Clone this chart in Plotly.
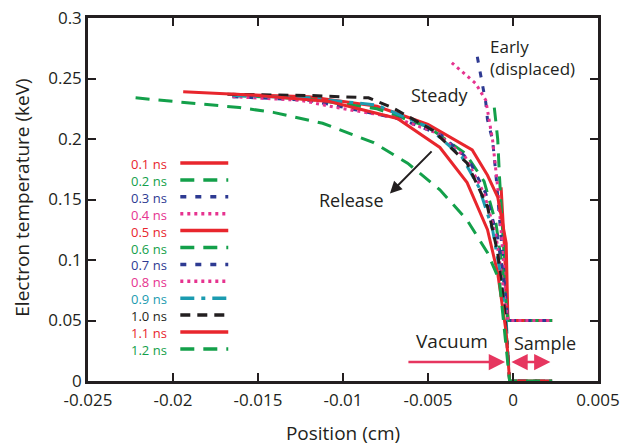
import plotly.graph_objects as go

# series labels and styles (legend order)
labels = ["0.1 ns", "0.2 ns", "0.3 ns", "0.4 ns", "0.5 ns", "0.6 ns",
          "0.7 ns", "0.8 ns", "0.9 ns", "1.0 ns", "1.1 ns", "1.2 ns"]

RED = "#e8262d"
GREEN = "#13a04a"
BLUE = "#2e3a92"
MAGENTA = "#e6338f"
TEAL = "#1b9bb0"
BLACK = "#231f20"
PINK = "#e6365f"

colors = [RED, GREEN, BLUE, MAGENTA, RED, GREEN, BLUE, MAGENTA, TEAL, BLACK, RED, GREEN]
dashes = ["solid", "14px,9px", "6px,9px", "3px,4px", "solid", "14px,9px",
          "6px,9px", "3px,4px", "14px,7px,4px,7px", "10px,7px", "solid", "14px,9px"]

# position (cm) / electron temperature (keV)
x01 = [-0.0007, -0.0005, -0.0004, -0.0003, 0.0023]
y01 = [0.16, 0.11, 0.07, 0.05, 0.05]
x02 = [-0.0011, -0.0009, -0.0008, -0.0006, -0.0004, -0.0003, 0.0023]
y02 = [0.226, 0.2, 0.17, 0.12, 0.07, 0.05, 0.05]
x03 = [-0.0021, -0.0018, -0.0016, -0.0015, -0.0012, -0.001, -0.0007, -0.0004, -0.0003, 0.0023]
y03 = [0.268, 0.247, 0.23, 0.216, 0.199, 0.17, 0.12, 0.07, 0.05, 0.05]
x04 = [-0.0036, -0.0022, -0.0016, -0.0014, -0.0012, -0.0009, -0.0006, -0.0004, -0.0003, 0.0023]
y04 = [0.263, 0.246, 0.232, 0.216, 0.199, 0.16, 0.11, 0.07, 0.05, 0.05]
x05 = [-0.0165, -0.012, -0.008, -0.005, -0.0024, -0.0015, -0.0009, -0.0004, -0.0003, 0.0023]
y05 = [0.237, 0.235, 0.227, 0.212, 0.191, 0.17, 0.152, 0.114, 0.05, 0.05]
x06 = [-0.0165, -0.012, -0.008, -0.005, -0.0028, -0.0017, -0.001, -0.0006, -0.0003, 0.0023]
y06 = [0.236, 0.233, 0.225, 0.21, 0.188, 0.165, 0.13, 0.09, 0.05, 0.05]
x07 = [-0.0165, -0.012, -0.0092, -0.0065, -0.0042, -0.0026, -0.0016, -0.0009, -0.0005, -0.0003, 0.0023]
y07 = [0.235, 0.232, 0.224, 0.216, 0.203, 0.183, 0.155, 0.118, 0.08, 0.05, 0.05]
x08 = [-0.0165, -0.0125, -0.0104, -0.007, -0.0045, -0.0028, -0.0017, -0.001, -0.0006, -0.0003, 0.0023]
y08 = [0.235, 0.232, 0.226, 0.218, 0.205, 0.185, 0.155, 0.12, 0.08, 0.05, 0.05]
x09 = [-0.0165, -0.012, -0.008, -0.005, -0.003, -0.002, -0.0012, -0.0007, -0.0004, -0.0002, 0.0023]
y09 = [0.236, 0.234, 0.228, 0.21, 0.185, 0.16, 0.125, 0.085, 0.05, 0.0, 0.0]
x10 = [-0.0168, -0.012, -0.0085, -0.0071, -0.0047, -0.0027, -0.0015, -0.0009, -0.0005, -0.0002, 0.0023]
y10 = [0.237, 0.236, 0.234, 0.226, 0.207, 0.18, 0.144, 0.106, 0.06, 0.0, 0.0]
x11 = [-0.0194, -0.015, -0.0108, -0.0068, -0.0043, -0.0027, -0.0015, -0.0009, -0.0004, -0.0002, 0.0023]
y11 = [0.239, 0.236, 0.231, 0.217, 0.193, 0.164, 0.125, 0.089, 0.04, 0.0, 0.0]
x12 = [-0.0222, -0.0161, -0.0141, -0.0112, -0.0082, -0.0062, -0.0043, -0.0027, -0.0015, -0.0008, -0.0002, 0.0023]
y12 = [0.234, 0.226, 0.222, 0.213, 0.197, 0.18, 0.158, 0.133, 0.106, 0.083, 0.0, 0.0]

xs = [x01, x02, x03, x04, x05, x06, x07, x08, x09, x10, x11, x12]
ys = [y01, y02, y03, y04, y05, y06, y07, y08, y09, y10, y11, y12]

xtickvals = [-0.025, -0.02, -0.015, -0.01, -0.005, 0, 0.005]
xticktext = ["-0.025", "-0.02", "-0.015", "-0.01", "-0.005", "0", "0.005"]
ytickvals = [0, 0.05, 0.1, 0.15, 0.2, 0.25, 0.3]
yticktext = ["0", "0.05", "0.1", "0.15", "0.2", "0.25", "0.3"]

FONT = "Open Sans"

fig = go.Figure()
for i in range(len(labels)):
    fig.add_trace(go.Scatter(x=xs[i], y=ys[i], mode="lines", name=labels[i],
                             line=dict(color=colors[i], width=3, dash=dashes[i])))

# hand-made legend: coloured labels on the left, line samples on the right
step = 16.9
legend_text = "<br>".join(f"<span style='color:{c}'>{lab}</span>"
                          for lab, c in zip(labels, colors))
fig.add_annotation(x=0.082, y=(381 - 163 + step / 2 + 1) / 363, xref="paper", yref="paper",
                   text=legend_text, showarrow=False, xanchor="left", yanchor="top",
                   align="left", borderpad=0, font=dict(family=FONT, size=13, color=BLACK))
for i in range(len(labels)):
    yp = (381 - (163 + i * step)) / 363
    fig.add_shape(type="line", xref="paper", yref="paper", x0=0.181, x1=0.275, y0=yp, y1=yp,
                  line=dict(color=colors[i], width=3.5, dash=dashes[i]))

TXT = dict(family=FONT, size=18, color=BLACK)
fig.add_annotation(x=-0.0015, y=0.267, text="Early<br>(displaced)", showarrow=False,
                   xanchor="left", align="left", font=dict(family=FONT, size=17, color=BLACK))
fig.add_annotation(x=-0.0043, y=0.236, text="Steady", showarrow=False, font=TXT)
fig.add_annotation(x=-0.0095, y=0.1496, text="Release", showarrow=False, font=TXT)
fig.add_annotation(x=-0.00724, y=0.155, ax=-0.0047, ay=0.191, axref="x", ayref="y",
                   text="", showarrow=True, arrowhead=2, arrowsize=1.2, arrowwidth=2,
                   arrowcolor=BLACK)
fig.add_annotation(x=-0.0036, y=0.033, text="Vacuum", showarrow=False,
                   font=dict(family=FONT, size=19, color=BLACK))
fig.add_annotation(x=0.0019, y=0.031, text="Sample", showarrow=False, font=TXT)
fig.add_annotation(x=-0.00047, y=0.0157, ax=-0.00624, ay=0.0157, axref="x", ayref="y",
                   text="", showarrow=True, arrowhead=2, arrowsize=1.3, arrowwidth=2.5,
                   arrowcolor=PINK)
fig.add_annotation(x=0.0022, y=0.0157, ax=-0.00018, ay=0.0157, axref="x", ayref="y",
                   text="", showarrow=True, arrowhead=2, arrowsize=1.3, arrowwidth=2.5,
                   arrowside="end+start", arrowcolor=PINK)

# y title as a rotated annotation so it can sit close to the page edge
fig.add_annotation(x=-66 / 510, y=0.505, xref="paper", yref="paper",
                   xanchor="center", yanchor="middle",
                   text="Electron temperature (keV)", textangle=-90, showarrow=False,
                   font=dict(family=FONT, size=19, color=BLACK))

axis_common = dict(showline=True, linecolor=BLACK, linewidth=2.5, mirror="ticks",
                   ticks="inside", ticklen=8, tickwidth=1.5, tickcolor=BLACK,
                   showgrid=False, zeroline=False, automargin=False,
                   ticklabeloverflow="allow",
                   tickfont=dict(family=FONT, size=17, color=BLACK))

fig.update_layout(
    width=620, height=446,
    margin=dict(l=88, r=22, t=18, b=65),
    paper_bgcolor="white", plot_bgcolor="white",
    showlegend=False,
    xaxis=dict(range=[-0.025, 0.005], tickvals=xtickvals, ticktext=xticktext,
               ticklabelstandoff=2,
               title=dict(text="Position (cm)", standoff=19,
                          font=dict(family=FONT, size=19, color=BLACK)),
               **axis_common),
    yaxis=dict(range=[0, 0.3], tickvals=ytickvals, ticktext=yticktext,
               **axis_common),
)

# drop the default page margin so the 620x446 figure fills the window exactly
fig.write_html("out.html", config={"displayModeBar": False},
               post_script="document.body.style.margin='0';document.body.style.overflow='hidden';")
